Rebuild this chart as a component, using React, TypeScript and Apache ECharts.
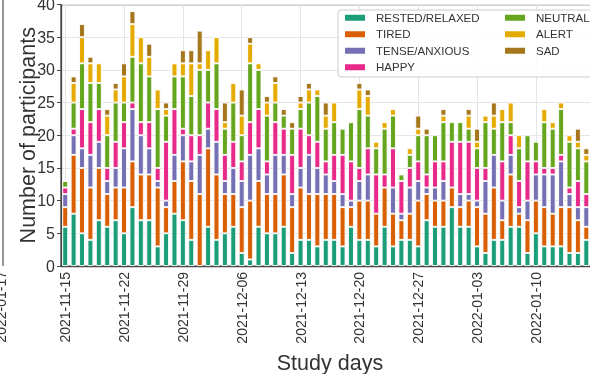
import React, { useEffect, useRef } from "react";
import * as echarts from "echarts";

// Study calendar: one category per day, weekly tick labels
const START_DAY = "2021-11-15";
const DAY_COUNT = 64;
const days: string[] = (() => {
  const out: string[] = [];
  const d0 = new Date(START_DAY + "T00:00:00Z");
  for (let i = 0; i < DAY_COUNT; i++) {
    const d = new Date(d0.getTime() + i * 86400000);
    out.push(d.toISOString().slice(0, 10));
  }
  return out;
})();

const yTicks = [0, 5, 10, 15, 20, 25, 30, 35, 40];

const moods = ["RESTED/RELAXED", "TIRED", "TENSE/ANXIOUS", "HAPPY", "NEUTRAL", "ALERT", "SAD"];
const moodColors = ["#1b9e77", "#d95f02", "#7570b3", "#e7298a", "#66a61e", "#e6ab02", "#a6761d"];

// Daily counts of participants per mood tag
const rested = [
  6, 8, 5, 4, 7, 6, 7, 5, 9, 7, 7, 3, 5, 8, 7, 4, 0, 6, 4, 5, 6, 2, 1, 6, 5, 5, 6, 2, 4, 4, 3, 4,
  4, 3, 6, 4, 4, 3, 6, 3, 4, 4, 3, 7, 6, 6, 9, 6, 6, 3, 2, 4, 4, 6, 6, 2, 5, 3, 3, 3, 2, 2, 4,
];
const tired = [
  3, 9, 10, 8, 8, 5, 5, 7, 7, 7, 7, 9, 4, 5, 9, 9, 11, 12, 10, 6, 5, 7, 9, 7, 6, 6, 8, 7, 8, 7, 8, 7,
  7, 6, 3, 6, 6, 5, 6, 5, 3, 4, 7, 4, 4, 4, 3, 3, 4, 6, 6, 8, 3, 8, 2, 5, 5, 6, 5, 6, 7, 5, 2,
];
const tense = [
  2, 3, 3, 5, 4, 2, 3, 6, 8, 6, 4, 1, 1, 4, 4, 3, 6, 3, 5, 2, 4, 4, 7, 5, 3, 6, 3, 2, 3, 6, 4, 3,
  2, 2, 1, 3, 4, 0, 0, 4, 1, 4, 3, 1, 2, 3, 0, 2, 1, 1, 5, 5, 3, 3, 1, 3, 4, 5, 6, 7, 2, 2, 3,
];
const happy = [
  1, 1, 6, 5, 5, 2, 4, 4, 1, 2, 4, 2, 9, 7, 1, 4, 3, 4, 5, 4, 4, 3, 5, 6, 2, 5, 4, 6, 6, 3, 4, 2,
  4, 6, 6, 2, 4, 6, 2, 6, 5, 3, 3, 2, 4, 3, 7, 8, 8, 5, 2, 0, 6, 3, 4, 6, 2, 1, 1, 1, 1, 4, 2,
];
const neutral = [
  1, 4, 7, 6, 4, 5, 6, 3, 7, 9, 7, 9, 4, 5, 8, 6, 10, 5, 7, 4, 6, 4, 9, 6, 7, 3, 2, 4, 3, 5, 7, 5,
  5, 4, 6, 9, 5, 4, 7, 5, 1, 2, 4, 6, 4, 6, 3, 3, 2, 3, 7, 4, 6, 2, 5, 4, 3, 7, 6, 7, 7, 5, 5,
];
const alert = [
  0, 3, 4, 3, 3, 3, 2, 4, 5, 4, 3, 3, 1, 2, 2, 5, 1, 3, 4, 1, 3, 3, 3, 1, 2, 3, 0, 0, 1, 2, 1, 2,
  3, 0, 0, 3, 3, 1, 1, 1, 0, 1, 1, 0, 0, 1, 0, 0, 2, 1, 1, 2, 2, 3, 2, 0, 0, 2, 1, 1, 1, 1, 1,
];
const sad = [
  0, 1, 2, 1, 0, 1, 1, 2, 2, 0, 2, 0, 1, 0, 2, 2, 5, 0, 0, 3, 0, 4, 1, 0, 1, 1, 1, 1, 1, 1, 0, 2,
  0, 0, 0, 1, 1, 0, 0, 0, 0, 0, 2, 1, 0, 1, 0, 0, 1, 2, 0, 2, 0, 0, 0, 0, 0, 0, 0, 0, 0, 2, 1,
];

const moodCounts = [rested, tired, tense, happy, neutral, alert, sad];

const FONT = "'Liberation Sans', Arial, sans-serif";
const TEXT = "#333333";
const SPINE = "#444444";
const GRID_LINE = "#e5e5e5";
const BAND = 8.405; // px per day

const weekly = (i: number) => i % 7 === 0;

export default function App() {
  const ref = useRef<HTMLDivElement>(null);

  useEffect(() => {
    if (!ref.current) return;
    document.body.style.margin = "0";
    document.body.style.overflow = "hidden";
    const chart = echarts.init(ref.current, undefined, { renderer: "svg" });

    const series = moods.map((name, k) => ({
      name,
      type: "bar" as const,
      stack: "moods",
      barWidth: "70%",
      data: moodCounts[k].map((v) => (v === 0 ? "-" : v)),
      itemStyle: { color: moodColors[k], borderColor: "#ffffff", borderWidth: 0.9 },
      emphasis: { disabled: true },
    }));

    const legendBase = {
      orient: "vertical" as const,
      top: 9.5,
      padding: 0,
      itemWidth: 22,
      itemHeight: 8,
      itemGap: 0,
      icon: "rect",
      selectedMode: false,
      textStyle: { fontSize: 11.5, lineHeight: 16.5, color: TEXT, fontFamily: FONT, padding: [0, 0, 0, 5] },
    };

    chart.setOption({
      animation: false,
      textStyle: { fontFamily: FONT },
      grid: {
        left: 61,
        top: 4.5,
        width: DAY_COUNT * BAND,
        height: 261.5,
        outerBoundsMode: "none",
        containLabel: false,
        show: true,
        borderColor: SPINE,
        borderWidth: 1.25,
        backgroundColor: "transparent",
      },
      legend: [
        { ...legendBase, left: 343, data: moods.slice(0, 4) },
        { ...legendBase, left: 503, data: moods.slice(4) },
      ],
      xAxis: {
        type: "category",
        data: days,
        boundaryGap: true,
        name: "Study days",
        nameLocation: "middle",
        nameGap: 82,
        nameTextStyle: { fontSize: 21.5, color: TEXT, fontFamily: FONT },
        axisLine: { lineStyle: { color: SPINE, width: 1.25 } },
        axisTick: { alignWithLabel: true, interval: weekly, length: 4, lineStyle: { color: SPINE, width: 1 } },
        axisLabel: { interval: weekly, rotate: 90, fontSize: 14, color: TEXT, margin: 6, fontFamily: FONT },
        splitLine: { show: true, alignWithLabel: true, interval: weekly, lineStyle: { color: GRID_LINE, width: 1 } },
      },
      yAxis: {
        type: "value",
        min: yTicks[0],
        max: yTicks[yTicks.length - 1],
        interval: yTicks[1] - yTicks[0],
        name: "Number of participants",
        nameLocation: "middle",
        nameGap: 22,
        nameMoveOverlap: false,
        nameTextStyle: { fontSize: 21.5, color: TEXT, fontFamily: FONT },
        axisLine: { show: true, lineStyle: { color: SPINE, width: 1.25 } },
        axisTick: { show: true, length: 4, lineStyle: { color: SPINE, width: 1 } },
        axisLabel: { fontSize: 16, color: TEXT, margin: 6, fontFamily: FONT },
        splitLine: { show: true, lineStyle: { color: GRID_LINE, width: 1 } },
      },
      graphic: [
        {
          type: "rect",
          z: 3,
          shape: { x: 338, y: 10, width: 290, height: 67, r: 3 },
          style: { fill: "rgba(255,255,255,0.85)", stroke: "#cccccc", lineWidth: 1 },
        },
        {
          type: "line",
          shape: { x1: 3, y1: 0, x2: 3, y2: 266 },
          style: { stroke: "#555555", lineWidth: 1.25 },
        },
        {
          type: "text",
          x: 0.5,
          y: 271,
          rotation: Math.PI / 2,
          style: {
            text: "2022-01-17",
            font: `14px ${FONT}`,
            fill: TEXT,
            align: "right",
            verticalAlign: "middle",
          },
        },
      ],
      series,
    });

    return () => chart.dispose();
  }, []);

  return (
    <div
      ref={ref}
      style={{ position: "fixed", left: 0, top: 0, width: 590, height: 374 }}
    />
  );
}
